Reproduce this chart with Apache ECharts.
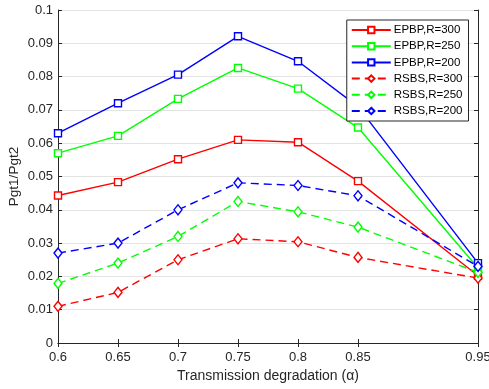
<!DOCTYPE html>
<html><head><meta charset="utf-8">
<script src="https://cdn.jsdelivr.net/npm/echarts@6/dist/echarts.min.js"></script>
<style>html,body{margin:0;padding:0;background:#fff}#c{width:489px;height:389px}</style>
</head><body><div id="c"></div>
<script>
const xValues = [0.6, 0.65, 0.7, 0.75, 0.8, 0.85, 0.95];
const xTicks = [0.6, 0.65, 0.7, 0.75, 0.8, 0.85, 0.95];
const seriesNames = ['EPBP,R=300','EPBP,R=250','EPBP,R=200','RSBS,R=300','RSBS,R=250','RSBS,R=200'];
const epbp300 = [0.0443, 0.0483, 0.0552, 0.0610, 0.0603, 0.0486, 0.0202];
const epbp250 = [0.0570, 0.0622, 0.0733, 0.0826, 0.0764, 0.0647, 0.0225];
const epbp200 = [0.0630, 0.0720, 0.0806, 0.0921, 0.0846, 0.0710, 0.0240];
const rsbs300 = [0.0110, 0.0152, 0.0250, 0.0313, 0.0304, 0.0257, 0.0195];
const rsbs250 = [0.0179, 0.0240, 0.0320, 0.0425, 0.0394, 0.0348, 0.0212];
const rsbs200 = [0.0270, 0.0300, 0.0400, 0.0481, 0.0473, 0.0442, 0.0230];

const allData = [epbp300, epbp250, epbp200, rsbs300, rsbs250, rsbs200];
const colors = ['#ff0000','#00ff00','#0000ff','#ff0000','#00ff00','#0000ff'];
const txt = '#262626';
const font = 'Liberation Sans, Arial, sans-serif';

const series = allData.map((d, i) => {
  const dashed = i >= 3;
  return {
    name: seriesNames[i],
    type: 'line',
    xAxisIndex: 0, yAxisIndex: 0,
    data: xValues.map((x, j) => [x, d[j]]),
    symbol: dashed ? 'diamond' : 'rect',
    symbolSize: dashed ? [8, 10] : [7, 7],
    showAllSymbol: true,
    lineStyle: { color: colors[i], width: 1.4, type: dashed ? [8, 5] : 'solid' },
    itemStyle: { color: '#fff', borderColor: colors[i], borderWidth: 1.4 },
    emphasis: { disabled: true },
    animation: false
  };
});

const commonX = {
  type: 'value', min: 0.6, max: 0.95,
  axisLine: { show: true, lineStyle: { color: txt, width: 1 } },
  splitLine: { show: false },
};
const commonY = {
  type: 'value', min: 0, max: 0.1, interval: 0.01,
  axisLine: { show: true, lineStyle: { color: txt, width: 1 } },
};

const chart = echarts.init(document.getElementById('c'), null, { renderer: 'canvas' });
chart.setOption({
  animation: false,
  backgroundColor: '#fff',
  grid: { left: 58, right: 11, top: 10, bottom: 46, containLabel: false, outerBoundsMode: 'none' },
  xAxis: [
    Object.assign({}, commonX, {
      position: 'bottom',
      name: 'Transmission degradation (α)', nameLocation: 'middle', nameGap: 26, nameMoveOverlap: false,
      nameTextStyle: { color: txt, fontSize: 14, fontFamily: font },
      axisTick: { show: true, inside: true, length: 4, customValues: xTicks, lineStyle: { color: txt } },
      axisLabel: { show: true, customValues: xTicks, color: txt, fontSize: 13, fontFamily: font, margin: 8,
        formatter: v => String(+v.toFixed(2)) }
    }),
    Object.assign({}, commonX, {
      position: 'top',
      axisTick: { show: true, inside: true, length: 4, customValues: xTicks, lineStyle: { color: txt } },
      axisLabel: { show: false }
    })
  ],
  yAxis: [
    Object.assign({}, commonY, {
      position: 'left',
      name: 'Pgt1/Pgt2', nameLocation: 'middle', nameGap: 37, nameRotate: 90, nameMoveOverlap: false,
      nameTextStyle: { color: txt, fontSize: 13.5, fontFamily: font },
      axisTick: { show: true, inside: true, length: 4, lineStyle: { color: txt } },
      axisLabel: { color: txt, fontSize: 13, fontFamily: font, margin: 5,
        formatter: v => String(+v.toFixed(2)) },
      splitLine: { show: true, lineStyle: { color: '#e3e3e3', width: 1 } }
    }),
    Object.assign({}, commonY, {
      position: 'right',
      axisTick: { show: true, inside: true, length: 4, lineStyle: { color: txt } },
      axisLabel: { show: false },
      splitLine: { show: false }
    })
  ],
  legend: {
    orient: 'vertical',
    right: 20.5, top: 20,
    data: seriesNames,
    backgroundColor: '#fff',
    borderColor: '#262626', borderWidth: 1,
    padding: [4, 6, 4, 4],
    itemWidth: 39, itemHeight: 8, itemGap: 4.2,
    textStyle: { color: '#000', fontSize: 11.5, fontFamily: font, padding: [0, 0, 0, -2] },
    selectedMode: false
  },
  series: series
});
</script></body></html>
